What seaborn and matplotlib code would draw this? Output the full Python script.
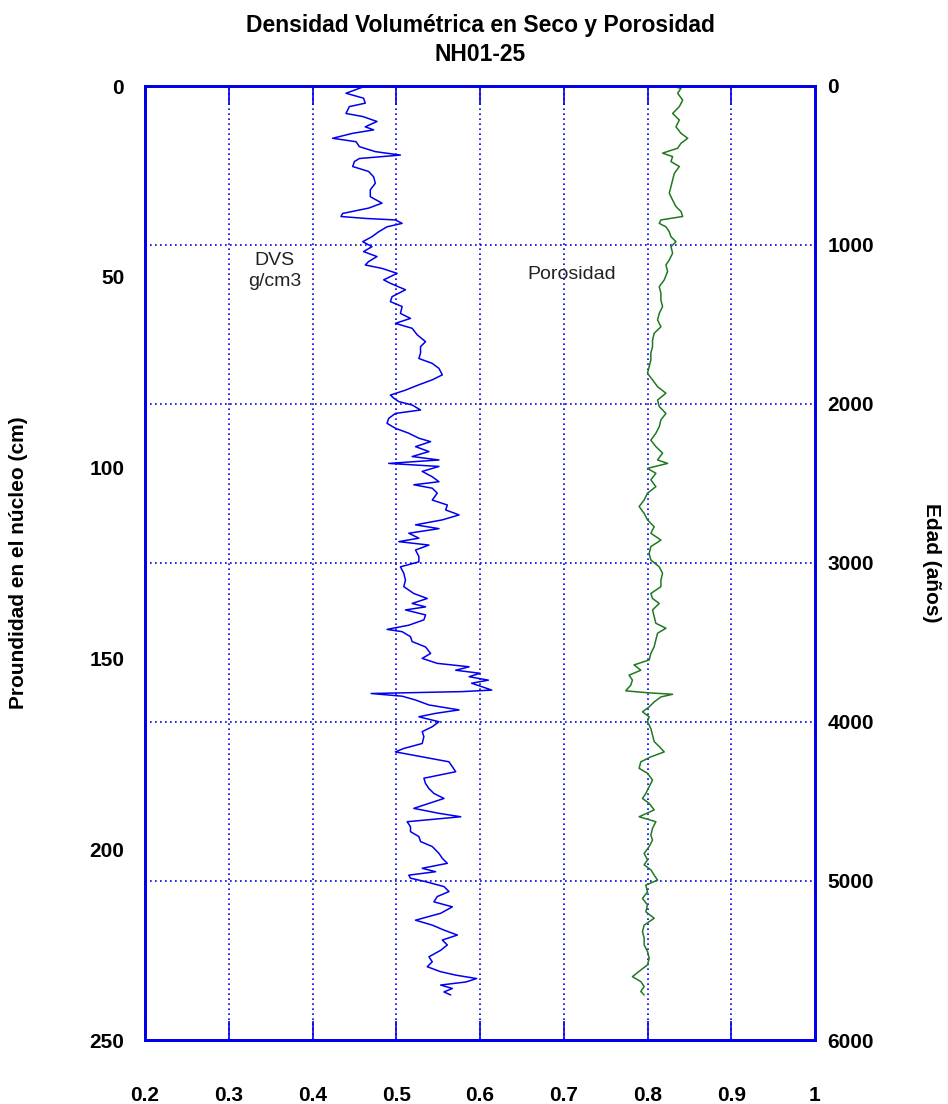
import matplotlib
matplotlib.use("Agg")
import matplotlib.pyplot as plt
import seaborn as sns
import pandas as pd
import numpy as np

# ---------------- data ----------------
dvs_depth = [0, 0.2, 1.9, 3.2, 4.5, 5.4, 7.2, 8, 9.3, 10.7, 11.5, 12.4, 13.7, 14.6, 15.9, 17.2, 18.1, 19,
             19.8, 21.1, 22.4, 23.8, 25.5, 27.2, 29, 30.7, 32, 33.4, 34.2, 34.7, 35.1, 36, 36.9, 38.2, 39.5,
             40.8, 42.1, 43.4, 44.7, 46, 46.9, 47.8, 49.1, 50.8, 51.7, 53.4, 55.2, 56.5, 57.8, 59.6, 60.9,
             62.2, 63.5, 65.2, 67, 68.3, 70, 71.4, 72.7, 74, 75.7, 77, 78.3, 79.7, 81, 81.8, 82.7, 83.6,
             84.9, 85.8, 87.1, 88.4, 89.7, 91, 92.3, 93.2, 94.5, 95.8, 97.1, 98, 98.9, 99.7, 101, 102.4,
             103.7, 104.5, 105.4, 106.7, 108.5, 109.8, 111.1, 112.4, 113.7, 115, 116, 117.2, 118.5, 119.4,
             120.3, 121.6, 123.3, 124.7, 126, 127.7, 129.5, 131.2, 133, 134.3, 135.6, 136.5, 137.3, 138.6,
             139.9, 141.3, 142.4, 143, 144.3, 145.6, 147, 148.7, 150, 151.3, 152.2, 153.1, 153.9, 154.8,
             155.7, 156.5, 157.4, 158.3, 158.7, 159.2, 159.9, 160.9, 162.2, 163.5, 164.4, 165.3, 166.6,
             167.9, 169.2, 170.5, 172.3, 173.6, 174.5, 175.8, 177.1, 178.4, 179.7, 181.4, 182.8, 184.1,
             185.4, 186.7, 188, 189.3, 190.6, 191.5, 192.8, 194.1, 195.4, 196.7, 198, 199.3, 201.1, 202.4,
             203.7, 205, 205.9, 206.8, 207.6, 208.5, 209.8, 211.1, 212.4, 213.8, 215.1, 216.8, 218.6,
             219.9, 221.2, 222.5, 223.8, 225.1, 226.5, 228.2, 229.5, 230.8, 232.1, 233, 233.9, 234.8,
             235.6, 236.5, 237.4, 238.2]
dvs_value = [0.469, 0.461, 0.440, 0.461, 0.463, 0.444, 0.440, 0.460, 0.477, 0.463, 0.473, 0.448, 0.424,
             0.452, 0.456, 0.475, 0.505, 0.456, 0.450, 0.448, 0.467, 0.473, 0.475, 0.469, 0.469, 0.483,
             0.467, 0.436, 0.434, 0.463, 0.499, 0.507, 0.489, 0.479, 0.471, 0.460, 0.471, 0.461, 0.477,
             0.467, 0.463, 0.483, 0.501, 0.485, 0.493, 0.511, 0.495, 0.493, 0.507, 0.505, 0.517, 0.499,
             0.519, 0.525, 0.535, 0.529, 0.529, 0.527, 0.543, 0.551, 0.555, 0.543, 0.527, 0.511, 0.493,
             0.497, 0.503, 0.519, 0.529, 0.499, 0.491, 0.489, 0.499, 0.515, 0.527, 0.541, 0.523, 0.539,
             0.519, 0.551, 0.491, 0.551, 0.531, 0.543, 0.551, 0.521, 0.543, 0.549, 0.543, 0.561, 0.559,
             0.575, 0.555, 0.523, 0.551, 0.515, 0.527, 0.503, 0.539, 0.523, 0.527, 0.527, 0.505, 0.509,
             0.511, 0.509, 0.521, 0.537, 0.519, 0.535, 0.511, 0.535, 0.533, 0.515, 0.489, 0.507, 0.517,
             0.519, 0.535, 0.541, 0.531, 0.549, 0.587, 0.571, 0.600, 0.587, 0.610, 0.590, 0.602, 0.614,
             0.579, 0.470, 0.507, 0.523, 0.539, 0.575, 0.547, 0.527, 0.551, 0.543, 0.531, 0.533, 0.531,
             0.509, 0.499, 0.531, 0.563, 0.567, 0.571, 0.533, 0.535, 0.539, 0.545, 0.557, 0.539, 0.521,
             0.551, 0.577, 0.513, 0.517, 0.517, 0.527, 0.529, 0.543, 0.551, 0.555, 0.561, 0.531, 0.547,
             0.515, 0.517, 0.535, 0.557, 0.563, 0.549, 0.545, 0.567, 0.553, 0.523, 0.543, 0.557, 0.573,
             0.555, 0.561, 0.553, 0.539, 0.543, 0.537, 0.553, 0.571, 0.596, 0.583, 0.553, 0.567, 0.557,
             0.565]

por_depth = [0, 0.6, 1.9, 3.7, 5.4, 7.2, 8.9, 10.7, 12.4, 13.7, 15, 16.3, 17.6, 18.5, 19.8, 21.1, 22.9,
             24.6, 26.4, 28.1, 29.9, 31.6, 32.9, 34.2, 35.1, 36, 36.9, 38.2, 39.5, 40.8, 42.1, 43.8, 45.6,
             46.9, 48.6, 50.8, 52.6, 54.3, 56.1, 57.8, 59.6, 61.3, 63.1, 64.8, 66.6, 68.3, 70, 71.8, 73.5,
             75.3, 77, 78.8, 80.5, 82.3, 84, 85.8, 87.5, 89.3, 91, 92.8, 94.5, 96.2, 98, 98.9, 100.2, 101.5,
             103.2, 105, 106.7, 108.5, 110.2, 112, 113.7, 115.5, 117.2, 119, 120.7, 122.5, 124.2, 126,
             127.7, 129.5, 131.2, 133, 134.3, 135.6, 137.3, 139.1, 140.8, 142.1, 143.4, 145.2, 146.9,
             148.7, 150.4, 151.7, 153.1, 154.4, 155.7, 157, 158.5, 159, 159.4, 160.1, 161.4, 162.7, 164,
             165.3, 166.6, 168.4, 170.1, 171.8, 173.1, 174.5, 175.8, 177.1, 178.8, 180.1, 181.9, 183.6,
             185.4, 186.7, 188, 189.7, 191.5, 192.8, 194.5, 196.3, 197.6, 199.3, 201.1, 202.8, 204.1,
             205.4, 206.8, 208.1, 209.4, 211.2, 212.9, 214.6, 216.4, 218.1, 219.9, 221.6, 223.3, 225.1,
             226.8, 228.6, 230.3, 232, 233.4, 234.7, 236, 237.3, 238.2]
por_value = [0.828, 0.840, 0.836, 0.842, 0.838, 0.830, 0.838, 0.834, 0.840, 0.848, 0.840, 0.836, 0.818,
             0.830, 0.828, 0.838, 0.832, 0.830, 0.828, 0.826, 0.830, 0.834, 0.840, 0.842, 0.816, 0.814,
             0.822, 0.826, 0.828, 0.834, 0.828, 0.830, 0.826, 0.822, 0.824, 0.820, 0.814, 0.816, 0.816,
             0.818, 0.814, 0.812, 0.816, 0.808, 0.806, 0.806, 0.804, 0.804, 0.802, 0.800, 0.806, 0.812,
             0.822, 0.812, 0.814, 0.822, 0.816, 0.814, 0.810, 0.804, 0.810, 0.818, 0.812, 0.824, 0.800,
             0.810, 0.804, 0.810, 0.800, 0.796, 0.790, 0.796, 0.800, 0.808, 0.804, 0.816, 0.804, 0.802,
             0.804, 0.814, 0.818, 0.816, 0.816, 0.804, 0.806, 0.814, 0.806, 0.808, 0.810, 0.822, 0.812,
             0.810, 0.808, 0.804, 0.802, 0.784, 0.792, 0.778, 0.782, 0.780, 0.774, 0.800, 0.830, 0.816,
             0.808, 0.802, 0.794, 0.802, 0.800, 0.804, 0.806, 0.808, 0.814, 0.820, 0.804, 0.792, 0.790,
             0.800, 0.806, 0.802, 0.798, 0.794, 0.802, 0.808, 0.790, 0.810, 0.806, 0.804, 0.806, 0.802,
             0.796, 0.800, 0.796, 0.804, 0.808, 0.812, 0.798, 0.800, 0.794, 0.800, 0.798, 0.808, 0.796,
             0.794, 0.796, 0.796, 0.800, 0.802, 0.800, 0.790, 0.782, 0.792, 0.796, 0.792, 0.796]

x_ticks = [0.2, 0.3, 0.4, 0.5, 0.6, 0.7, 0.8, 0.9, 1.0]
x_tick_labels = ["0.2", "0.3", "0.4", "0.5", "0.6", "0.7", "0.8", "0.9", "1"]
depth_ticks = [0, 50, 100, 150, 200, 250]
age_ticks = [0, 1000, 2000, 3000, 4000, 5000, 6000]

title = "Densidad Volumétrica en Seco y Porosidad\nNH01-25"
left_label = "Proundidad en el núcleo (cm)"
right_label = "Edad (años)"

# ---------------- plotting ----------------
sns.set_theme(style="white")
plt.rcParams["font.family"] = ["Liberation Sans Narrow", "Liberation Sans", "DejaVu Sans"]
plt.rcParams["text.color"] = "black"
plt.rcParams["xtick.color"] = "black"
plt.rcParams["ytick.color"] = "black"
plt.rcParams["axes.labelcolor"] = "black"

BLUE = "#0000ee"
GREEN = "#1f7a1f"

fig = plt.figure(figsize=(9.48, 11.04), dpi=100)
ax = fig.add_axes([145 / 948, 1 - 1040 / 1104, 670 / 948, 954 / 1104])

dvs = pd.DataFrame({"depth": dvs_depth, "value": dvs_value})
por = pd.DataFrame({"depth": por_depth, "value": por_value})
sns.lineplot(data=dvs, x="value", y="depth", sort=False, estimator=None, ax=ax,
             color=BLUE, linewidth=1.1)
sns.lineplot(data=por, x="value", y="depth", sort=False, estimator=None, ax=ax,
             color=GREEN, linewidth=1.1)

ax.set_xlim(0.2, 1.0)
ax.set_ylim(250, 0)
ax.set_xticks(x_ticks)
ax.set_xticklabels(x_tick_labels)
ax.set_yticks(depth_ticks)
ax.set_xlabel("")
ax.set_ylabel(left_label, fontsize=15, fontweight="bold", labelpad=44)

ax.xaxis.grid(True, color=BLUE, linestyle=(0, (1, 2)), linewidth=1.2)
ax.yaxis.grid(False)
ax.tick_params(axis="x", direction="in", length=14, width=1.2, color=BLUE,
               labelcolor="black", top=True, bottom=True, pad=33, labelsize=15)
ax.tick_params(axis="y", length=0, pad=15, labelsize=15, labelcolor="black")
for lab in ax.get_xticklabels() + ax.get_yticklabels():
    lab.set_fontweight("bold")

for s in ax.spines.values():
    s.set_color(BLUE)
    s.set_linewidth(2)
    s.set_visible(True)

ax2 = ax.twinx()
ax2.set_ylim(6000, 0)
ax2.set_yticks(age_ticks)
ax2.yaxis.grid(True, color=BLUE, linestyle=(0, (1, 2)), linewidth=1.2)
ax2.tick_params(axis="y", length=0, pad=9, labelsize=15, labelcolor="black")
for lab in ax2.get_yticklabels():
    lab.set_fontweight("bold")
ax2.set_ylabel(right_label, fontsize=15, fontweight="bold", rotation=-90, labelpad=48)
for s in ax2.spines.values():
    s.set_color(BLUE)
    s.set_linewidth(2)
ax.set_zorder(ax2.get_zorder() + 1)
ax.patch.set_visible(False)

ax.text(0.355, 48.5, "DVS\ng/cm3", ha="center", va="center", fontsize=14,
        color="#222222", family=["Liberation Sans", "DejaVu Sans"], linespacing=1.3)
ax.text(0.71, 49.5, "Porosidad", ha="center", va="center", fontsize=14,
        color="#222222", family=["Liberation Sans", "DejaVu Sans"])

fig.text(480 / 948, 1 - 40 / 1104, title, ha="center", va="center",
         fontsize=16.5, fontweight="bold", linespacing=1.35, color="black")

fig.savefig("out.png", dpi=100, facecolor="white")
